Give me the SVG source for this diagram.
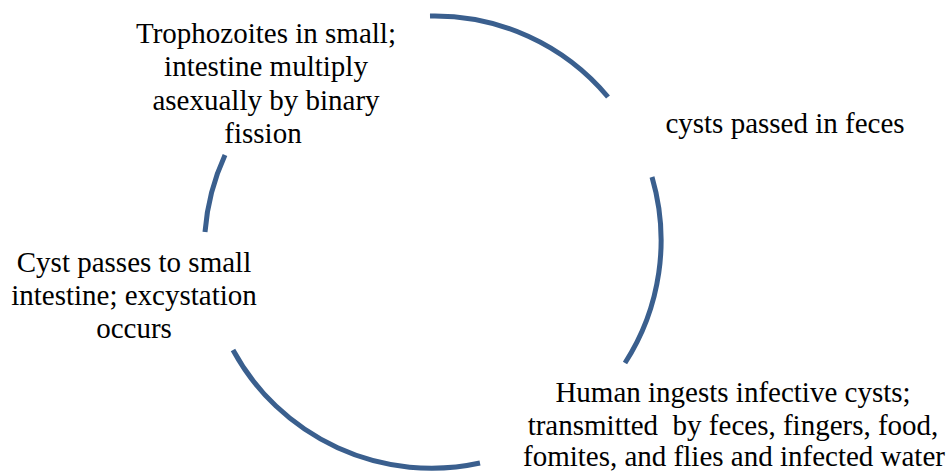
<svg xmlns="http://www.w3.org/2000/svg" width="952" height="472" viewBox="0 0 952 472">
<style>
.arc{fill:none;stroke:#3A5F8E;stroke-width:5}
.t{font-family:'Liberation Serif','Times New Roman',serif;font-size:29px;fill:#000;text-anchor:middle}
</style>
<rect width="952" height="472" fill="#fff"/>
<g id="connectors">
<path class="arc" d="M 430 16 A 226 226 0 0 1 608 97"/>
<path class="arc" d="M 652 177 A 226 226 0 0 1 625 363"/>
<path class="arc" d="M 480 463 A 226 226 0 0 1 233 350"/>
<path class="arc" d="M 205 232 A 226 226 0 0 1 225 155"/>
</g>
<g id="trophozoites">
<text class="t" x="266" y="43" font-family="Liberation Serif">Trophozoites in small;</text>
<text class="t" x="266" y="76">intestine multiply</text>
<text class="t" x="266" y="110">asexually by binary</text>
<text class="t" x="263" y="143">fission</text>
</g>
<g id="cysts-passed">
<text class="t" x="785" y="133">cysts passed in feces</text>
</g>
<g id="human-ingests">
<text class="t" x="733" y="402">Human ingests infective cysts;</text>
<text class="t" x="733" y="435" xml:space="preserve">transmitted  by feces, fingers, food,</text>
<text class="t" x="734" y="466">fomites, and flies and infected water</text>
</g>
<g id="cyst-passes">
<text class="t" x="134" y="272">Cyst passes to small</text>
<text class="t" x="134" y="305">intestine; excystation</text>
<text class="t" x="134" y="338">occurs</text>
</g>
</svg>
